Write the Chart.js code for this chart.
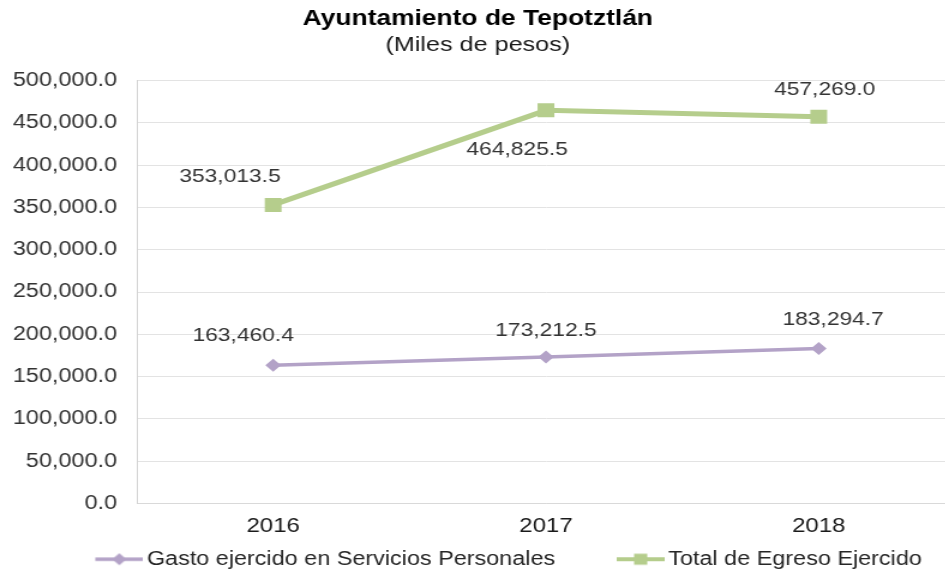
<!DOCTYPE html>
<html>
<head>
<meta charset="utf-8">
<script src="https://cdn.jsdelivr.net/npm/chart.js@4"></script>
<style>
html,body{margin:0;padding:0;overflow:hidden;background:#fff;}
canvas{display:block;}
</style>
</head>
<body>
<canvas id="c" width="806" height="569" style="width:967px;height:569px"></canvas>
<script>
const titleText = 'Ayuntamiento de Tepotztlán';
const subtitleText = '(Miles de pesos)';
const categories = ['2016', '2017', '2018'];
const seriesNames = ['Gasto ejercido en Servicios Personales', 'Total de Egreso Ejercido'];
const gastoServicios = [163460.4, 173212.5, 183294.7];
const totalEgreso = [353013.5, 464825.5, 457269.0];
const yMin = 0, yMax = 500000, yStep = 50000;

const FONT = '"Liberation Sans", Arial, Helvetica, sans-serif';
const PURPLE = '#b3a2c7';
const GREEN = '#b5cd8c';

const fmt = v => Number(v).toLocaleString('en-US', {minimumFractionDigits: 1, maximumFractionDigits: 1});

// label offsets (style, in canvas px) per dataset/point
const labelOffsets = [
  [[-25, -29], [0, -26], [12, -29]],
  [[-36, -28], [-24, 39], [5, -27]]
];

const LEGEND_BOX = 84.5;
function legendIcon(color, shape, lw) {
  const w = Math.round(LEGEND_BOX + 13), h = 16;
  const cv = document.createElement('canvas');
  cv.width = w; cv.height = h;
  const c = cv.getContext('2d');
  const x1 = w - 40, x2 = w, cy = h / 2;
  c.strokeStyle = color; c.lineWidth = lw;
  c.beginPath(); c.moveTo(x1, cy); c.lineTo(x2, cy); c.stroke();
  c.fillStyle = color;
  const mx = (x1 + x2) / 2;
  if (shape === 'rect') {
    c.fillRect(mx - 5.5, cy - 5.5, 11, 11);
  } else {
    c.beginPath();
    c.moveTo(mx, cy - 6); c.lineTo(mx + 6, cy); c.lineTo(mx, cy + 6); c.lineTo(mx - 6, cy); c.closePath(); c.fill();
  }
  return cv;
}
const legendIcons = [legendIcon(PURPLE, 'rectRot', 3.5), legendIcon(GREEN, 'rect', 4)];

const valueLabels = {
  id: 'valueLabels',
  afterDatasetsDraw(chart) {
    const ctx = chart.ctx;
    ctx.save();
    ctx.font = '19px ' + FONT;
    ctx.fillStyle = '#333333';
    ctx.textAlign = 'center';
    ctx.textBaseline = 'middle';
    chart.data.datasets.forEach((ds, di) => {
      const meta = chart.getDatasetMeta(di);
      meta.data.forEach((el, i) => {
        const off = labelOffsets[di][i];
        ctx.fillText(fmt(ds.data[i]), el.x + off[0], el.y + off[1]);
      });
    });
    ctx.restore();
  }
};

new Chart(document.getElementById('c'), {
  type: 'line',
  data: {
    labels: categories,
    datasets: [
      {
        label: seriesNames[0],
        data: gastoServicios,
        borderColor: PURPLE,
        backgroundColor: PURPLE,
        borderWidth: 3.5,
        pointStyle: 'rectRot',
        pointRadius: 6.5,
        pointBorderWidth: 0,
        tension: 0
      },
      {
        label: seriesNames[1],
        data: totalEgreso,
        borderColor: GREEN,
        backgroundColor: GREEN,
        borderWidth: 5,
        pointStyle: 'rect',
        pointRadius: 9.9,
        pointBorderWidth: 0,
        tension: 0
      }
    ]
  },
  options: {
    responsive: false,
    devicePixelRatio: 1,
    animation: false,
    layout: { padding: { left: 0, right: 9.5, top: 1, bottom: -10 } },
    plugins: {
      title: {
        display: true,
        text: titleText,
        color: '#000000',
        font: { family: FONT, size: 22, weight: 'bold', lineHeight: 1.2 },
        padding: { top: 5, bottom: 0 }
      },
      subtitle: {
        display: true,
        text: subtitleText,
        color: '#1a1a1a',
        font: { family: FONT, size: 21, weight: 'normal', lineHeight: 1.2 },
        padding: { top: 0, bottom: 23 }
      },
      legend: {
        display: true,
        position: 'bottom',
        labels: {
          usePointStyle: true,
          pointStyleWidth: LEGEND_BOX,
          padding: 0,
          color: '#262626',
          font: { family: FONT, size: 19.5 },
          generateLabels(chart) {
            const items = Chart.defaults.plugins.legend.labels.generateLabels(chart);
            items.forEach(it => { it.pointStyle = legendIcons[it.datasetIndex]; });
            return items;
          }
        }
      },
      tooltip: { enabled: false }
    },
    scales: {
      x: {
        offset: true,
        grid: { display: false, drawTicks: false },
        border: { display: true, color: '#d9d9d9', width: 1 },
        ticks: {
          color: '#1a1a1a',
          padding: 14,
          font: { family: FONT, size: 20, lineHeight: 0.9 }
        }
      },
      y: {
        min: yMin,
        max: yMax,
        afterFit(scale) { scale.width = 114; },
        grid: { color: '#e3e3e3', lineWidth: 1, drawTicks: false },
        border: { display: true, color: '#d4d4d4', width: 1 },
        ticks: {
          stepSize: yStep,
          padding: 16.5,
          color: '#333333',
          font: { family: FONT, size: 19.5, lineHeight: 1.2 },
          callback: v => fmt(v)
        }
      }
    }
  },
  plugins: [valueLabels]
});
</script>
</body>
</html>
